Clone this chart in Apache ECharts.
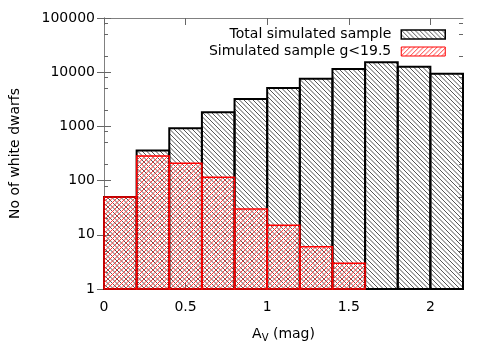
<!DOCTYPE html>
<html>
<head>
<meta charset="utf-8">
<script src="https://cdn.jsdelivr.net/npm/echarts@6/dist/echarts.min.js"></script>
<style>
  html, body { margin: 0; padding: 0; background: #fff; }
  #main { width: 491px; height: 362px; }
</style>
</head>
<body>
<div id="main"></div>
<script>
// histogram bins (left edge of each 0.2 mag bin)
let binStart = [0, 0.2, 0.4, 0.6, 0.8, 1.0, 1.2, 1.4, 1.6, 1.8, 2.0];
let binWidth = 0.2;
let totalCounts = [50, 360, 920, 1820, 3200, 5100, 7600, 11500, 15200, 12600, 9400];
let brightCounts = [50, 285, 210, 115, 30, 15, 6, 3];
let yTicks = [1, 10, 100, 1000, 10000, 100000];
let yMinorTicks = [2, 5, 8, 20, 50, 80, 200, 500, 800, 2000, 5000, 8000, 20000, 50000, 80000];
let xTicks = [0, 0.5, 1, 1.5, 2];
let names = ['Total simulated sample', 'Simulated sample g<19.5'];

let font = 'DejaVu Sans';

// diagonal line patterns
function hatch(color, dir) {
    let s = 9;
    let c = document.createElement('canvas');
    c.width = s; c.height = s;
    let g = c.getContext('2d');
    g.strokeStyle = color;
    g.lineWidth = 1;
    for (let k = -2; k <= 2; k++) {
        let o = k * 4.5;
        g.beginPath();
        if (dir > 0) { g.moveTo(o, 0); g.lineTo(o + s, s); }
        else { g.moveTo(o, s); g.lineTo(o + s, 0); }
        g.stroke();
    }
    return { image: c, repeat: 'repeat' };
}
let greyHatch = hatch('#555', 1);
let redHatch = hatch('#ff3b3b', -1);

function makeRender(fill, stroke, lw) {
    return function (params, api) {
        let x0 = api.value(0), v = api.value(1);
        let p0 = api.coord([x0, v]);
        let p1 = api.coord([x0 + binWidth, 1]);
        return {
            type: 'rect',
            shape: { x: p0[0], y: p0[1], width: p1[0] - p0[0], height: p1[1] - p0[1] },
            style: { fill: fill, stroke: stroke, lineWidth: lw }
        };
    };
}

let totalData = binStart.map((x, i) => [x, totalCounts[i]]);
let brightData = brightCounts.map((v, i) => [binStart[i], v]);

let myChart = echarts.init(document.getElementById('main'));

let frame = { show: true, lineStyle: { color: '#808080', width: 1 } };
let tickStyle = { color: '#666', width: 1 };

function logAxis(pos, major) {
    return {
        type: 'log', logBase: 10, min: 1, max: 100000, position: pos,
        axisLine: major ? frame : { show: false },
        axisTick: {
            inside: true, length: major ? 7 : 4, lineStyle: tickStyle,
            customValues: major ? yTicks : yMinorTicks
        },
        axisLabel: { show: false },
        splitLine: { show: false }
    };
}

let option = {
    animation: false,
    textStyle: { fontFamily: font },
    grid: { left: 104, right: 28, top: 18, bottom: 73 },
    legend: {
        orient: 'vertical',
        right: 45,
        top: 26,
        padding: 0,
        align: 'right',
        itemWidth: 44,
        itemHeight: 9,
        itemGap: 0,
        textStyle: { fontFamily: font, fontSize: 14, lineHeight: 17, color: '#000', padding: [0, 5, 0, 0] },
        data: [
            { name: names[0], icon: 'rect', itemStyle: { color: greyHatch, borderColor: '#000', borderWidth: 1.5 } },
            { name: names[1], icon: 'rect', itemStyle: { color: redHatch, borderColor: '#ff0000', borderWidth: 1 } }
        ]
    },
    xAxis: [{
        type: 'value', min: 0, max: 2.2, interval: 0.5,
        axisLine: frame,
        axisTick: { inside: true, length: 7, lineStyle: tickStyle, customValues: xTicks },
        axisLabel: {
            fontFamily: font, fontSize: 14, color: '#000', margin: 11, customValues: xTicks,
            formatter: v => String(v)
        },
        splitLine: { show: false },
        name: 'A{sub|V} (mag)',
        nameLocation: 'middle',
        nameGap: 36,
        nameTextStyle: {
            fontFamily: font, fontSize: 14, color: '#000',
            rich: { sub: { fontFamily: font, fontSize: 10, color: '#000', verticalAlign: 'bottom', padding: [8, 0, 0, 0] } }
        }
    }, {
        type: 'value', min: 0, max: 2.2, interval: 0.5, position: 'top',
        axisLine: frame,
        axisTick: { inside: true, length: 7, lineStyle: tickStyle, customValues: xTicks },
        axisLabel: { show: false },
        splitLine: { show: false }
    }],
    yAxis: [Object.assign(logAxis('left', true), {
        axisLabel: {
            fontFamily: font, fontSize: 14, color: '#000', margin: 9,
            customValues: yTicks, formatter: v => String(v)
        },
        name: 'No of white dwarfs',
        nameLocation: 'middle',
        nameRotate: 90,
        nameGap: 82,
        nameTextStyle: { fontFamily: font, fontSize: 14, color: '#000' }
    }), logAxis('right', true), logAxis('left', false), logAxis('right', false)],
    series: [{
        name: names[0],
        type: 'custom',
        renderItem: makeRender(greyHatch, '#000', 2),
        itemStyle: { color: greyHatch, borderColor: '#000' },
        encode: { x: 0, y: 1 },
        data: totalData
    }, {
        name: names[1],
        type: 'custom',
        renderItem: makeRender(redHatch, '#ff0000', 1.5),
        itemStyle: { color: redHatch, borderColor: '#ff0000' },
        encode: { x: 0, y: 1 },
        data: brightData
    }]
};

myChart.setOption(option);
</script>
</body>
</html>
